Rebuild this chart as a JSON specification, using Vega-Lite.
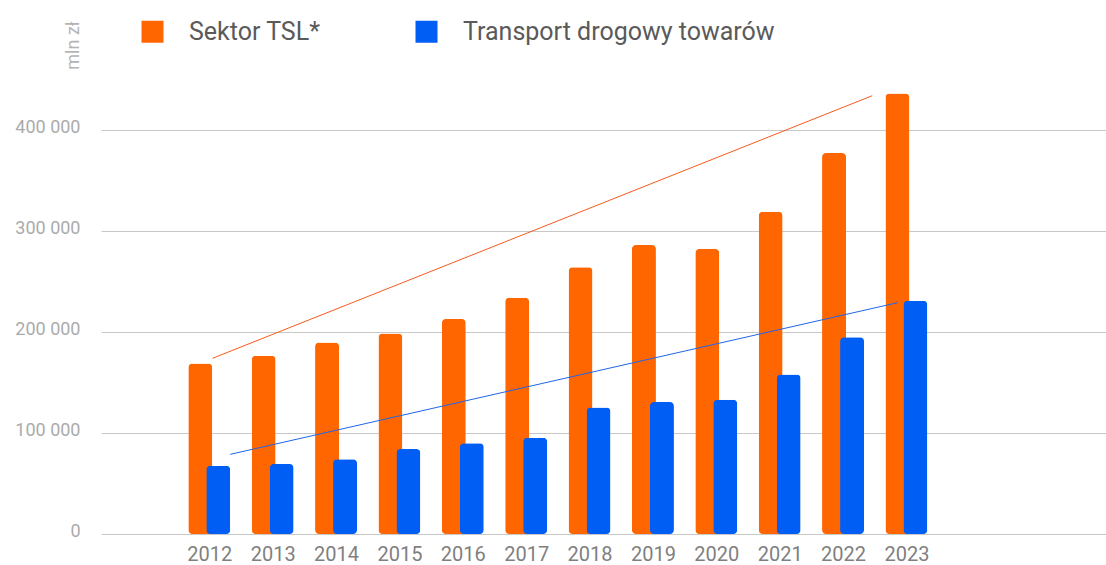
{
  "$schema": "https://vega.github.io/schema/vega-lite/v6.json",
  "width": 1005,
  "height": 525,
  "autosize": {"type": "none"},
  "padding": {"left": 101, "top": 9, "right": 0, "bottom": 31},
  "config": {
    "view": {"stroke": null},
    "font": "Roboto",
    "locale": {"number": {"decimal": ",", "thousands": " ", "grouping": [3], "currency": ["", " zł"]}}
  },
  "datasets": {
    "bars": [
      {"rok": 2012, "seria": "Sektor TSL*", "wartosc": 169000},
      {"rok": 2013, "seria": "Sektor TSL*", "wartosc": 176500},
      {"rok": 2014, "seria": "Sektor TSL*", "wartosc": 189800},
      {"rok": 2015, "seria": "Sektor TSL*", "wartosc": 198700},
      {"rok": 2016, "seria": "Sektor TSL*", "wartosc": 212900},
      {"rok": 2017, "seria": "Sektor TSL*", "wartosc": 234000},
      {"rok": 2018, "seria": "Sektor TSL*", "wartosc": 264100},
      {"rok": 2019, "seria": "Sektor TSL*", "wartosc": 286200},
      {"rok": 2020, "seria": "Sektor TSL*", "wartosc": 282200},
      {"rok": 2021, "seria": "Sektor TSL*", "wartosc": 319200},
      {"rok": 2022, "seria": "Sektor TSL*", "wartosc": 377300},
      {"rok": 2023, "seria": "Sektor TSL*", "wartosc": 436400},
      {"rok": 2012, "seria": "Transport drogowy towarów", "wartosc": 67600},
      {"rok": 2013, "seria": "Transport drogowy towarów", "wartosc": 69300},
      {"rok": 2014, "seria": "Transport drogowy towarów", "wartosc": 74000},
      {"rok": 2015, "seria": "Transport drogowy towarów", "wartosc": 84200},
      {"rok": 2016, "seria": "Transport drogowy towarów", "wartosc": 89800},
      {"rok": 2017, "seria": "Transport drogowy towarów", "wartosc": 95400},
      {"rok": 2018, "seria": "Transport drogowy towarów", "wartosc": 125400},
      {"rok": 2019, "seria": "Transport drogowy towarów", "wartosc": 130700},
      {"rok": 2020, "seria": "Transport drogowy towarów", "wartosc": 133000},
      {"rok": 2021, "seria": "Transport drogowy towarów", "wartosc": 158100},
      {"rok": 2022, "seria": "Transport drogowy towarów", "wartosc": 195000},
      {"rok": 2023, "seria": "Transport drogowy towarów", "wartosc": 231000}
    ],
    "trend": [
      {"seria": "Sektor TSL*", "rok": 2012.05, "wartosc": 174000},
      {"seria": "Sektor TSL*", "rok": 2022.46, "wartosc": 434100},
      {"seria": "Transport drogowy towarów", "rok": 2012.33, "wartosc": 78900},
      {"seria": "Transport drogowy towarów", "rok": 2022.86, "wartosc": 229100}
    ],
    "cagr": [
      {"seria": "Sektor TSL*", "cagr": "CAGR = 8,5%"},
      {"seria": "Transport drogowy towarów", "cagr": "CAGR = 11,5%"}
    ]
  },
  "encoding": {
    "x": {
      "field": "rok", "type": "quantitative",
      "scale": {"domain": [2010.37, 2026.07], "nice": false, "zero": false},
      "axis": {
        "values": [2012, 2013, 2014, 2015, 2016, 2017, 2018, 2019, 2020, 2021, 2022, 2023],
        "format": "d", "grid": false, "ticks": false, "domain": false,
        "labelFontSize": 20, "labelColor": "#7f7f7f", "labelPadding": 26,
        "labelBaseline": "alphabetic", "labelFlush": false, "labelOverlap": false, "title": null
      }
    },
    "y": {
      "field": "wartosc", "type": "quantitative",
      "scale": {"domain": [0, 520000], "nice": false},
      "axis": {
        "values": [0, 100000, 200000, 300000, 400000],
        "format": ",d", "grid": true, "gridColor": "#c8c8c8", "gridWidth": 1,
        "ticks": false, "domain": false,
        "labelFontSize": 18, "labelColor": "#ababab", "labelPadding": 21,
        "labelBaseline": "alphabetic", "labelOffset": 2,
        "title": "mln zł", "titleFontSize": 18, "titleFontWeight": "normal", "titleColor": "#b4b4b4",
        "titleX": -28, "titleY": 36, "titleAngle": 270, "titleAlign": "center", "titleBaseline": "middle"
      }
    }
  },
  "layer": [
    {
      "data": {"name": "bars"},
      "transform": [{"filter": "datum.seria == 'Sektor TSL*'"}],
      "mark": {"type": "bar", "width": 24, "xOffset": -9, "cornerRadius": 4},
      "encoding": {
        "color": {
          "field": "seria", "type": "nominal",
          "scale": {"domain": ["Sektor TSL*", "Transport drogowy towarów"], "range": ["#ff6600", "#005ef5"]},
          "legend": {
            "orient": "none", "legendX": 39, "legendY": 10, "direction": "horizontal", "title": null,
            "symbolType": "square", "symbolSize": 484, "symbolStrokeWidth": 0, "symbolOpacity": 1,
            "labelFontSize": 25, "labelColor": "#5a5a5a", "labelOffset": 24, "columnPadding": 93, "labelLimit": 500
          }
        }
      }
    },
    {
      "data": {"name": "bars"},
      "transform": [{"filter": "datum.seria == 'Transport drogowy towarów'"}],
      "mark": {"type": "bar", "width": 24, "xOffset": 9, "cornerRadius": 4},
      "encoding": {
        "color": {"field": "seria", "type": "nominal"}
      }
    },
    {
      "data": {"name": "trend"},
      "transform": [{"filter": "datum.seria == 'Sektor TSL*'"}],
      "mark": {"type": "line", "color": "#f75a1e", "strokeWidth": 1}
    },
    {
      "data": {"name": "trend"},
      "transform": [{"filter": "datum.seria == 'Transport drogowy towarów'"}],
      "mark": {"type": "line", "color": "#1f66ec", "strokeWidth": 1}
    },
    {
      "data": {"name": "cagr"},
      "transform": [{"filter": "datum.seria == 'Sektor TSL*'"}],
      "layer": [
        {
          "mark": {"type": "rect", "color": "#ff6600", "cornerRadius": 4},
          "encoding": {
            "x": {"datum": 2023.71, "type": "quantitative"},
            "x2": {"datum": 2026.2},
            "y": {"datum": 450700, "type": "quantitative"},
            "y2": {"datum": 418000}
          }
        },
        {
          "mark": {"type": "text", "color": "white", "fontSize": 23, "fontStyle": "italic", "align": "left", "baseline": "middle"},
          "encoding": {
            "x": {"datum": 2023.834, "type": "quantitative"},
            "y": {"datum": 434300, "type": "quantitative"},
            "text": {"field": "cagr"}
          }
        }
      ]
    },
    {
      "data": {"name": "cagr"},
      "transform": [{"filter": "datum.seria == 'Transport drogowy towarów'"}],
      "layer": [
        {
          "mark": {"type": "rect", "color": "#005ef5", "cornerRadius": 4},
          "encoding": {
            "x": {"datum": 2023.71, "type": "quantitative"},
            "x2": {"datum": 2026.2},
            "y": {"datum": 259800, "type": "quantitative"},
            "y2": {"datum": 226800}
          }
        },
        {
          "mark": {"type": "text", "color": "white", "fontSize": 23, "fontStyle": "italic", "align": "left", "baseline": "middle"},
          "encoding": {
            "x": {"datum": 2023.834, "type": "quantitative"},
            "y": {"datum": 243300, "type": "quantitative"},
            "text": {"field": "cagr"}
          }
        }
      ]
    }
  ]
}
